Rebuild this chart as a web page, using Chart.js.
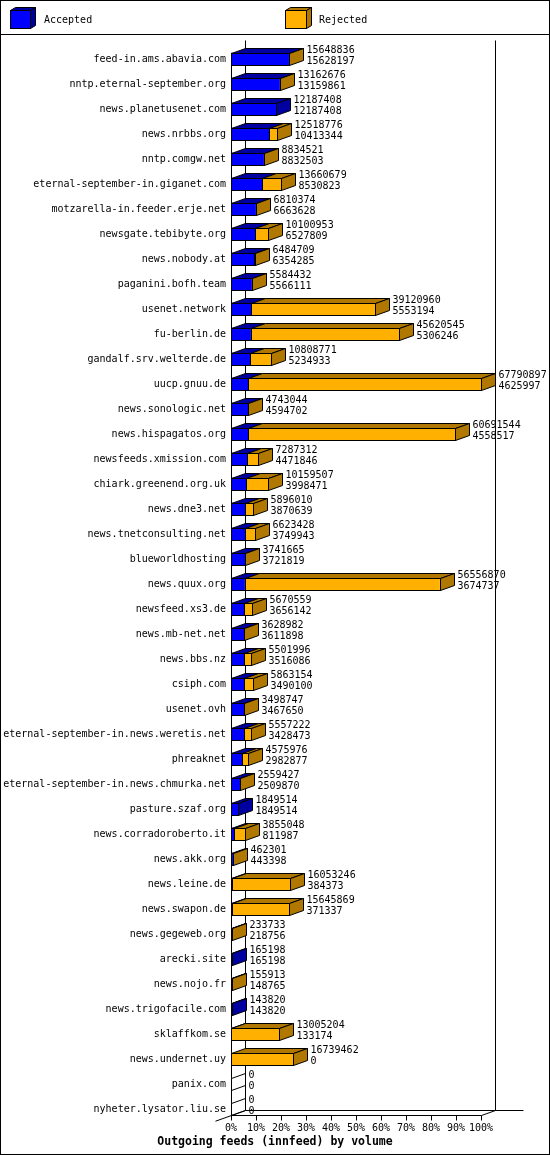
<!DOCTYPE html>
<html>
<head>
<meta charset="utf-8">
<script src="https://cdn.jsdelivr.net/npm/chart.js@4"></script>
<style>
  html, body { margin: 0; padding: 0; background: #fff; }
  #wrap { width: 550px; height: 1155px; }
</style>
</head>
<body>
<div id="wrap"><canvas id="chart" width="550" height="1155"></canvas></div>
<script>
const hosts = [
  "feed-in.ams.abavia.com", "nntp.eternal-september.org", "news.planetusenet.com",
  "news.nrbbs.org", "nntp.comgw.net", "eternal-september-in.giganet.com",
  "motzarella-in.feeder.erje.net", "newsgate.tebibyte.org", "news.nobody.at",
  "paganini.bofh.team", "usenet.network", "fu-berlin.de", "gandalf.srv.welterde.de",
  "uucp.gnuu.de", "news.sonologic.net", "news.hispagatos.org", "newsfeeds.xmission.com",
  "chiark.greenend.org.uk", "news.dne3.net", "news.tnetconsulting.net", "blueworldhosting",
  "news.quux.org", "newsfeed.xs3.de", "news.mb-net.net", "news.bbs.nz", "csiph.com",
  "usenet.ovh", "eternal-september-in.news.weretis.net", "phreaknet",
  "eternal-september-in.news.chmurka.net", "pasture.szaf.org", "news.corradoroberto.it",
  "news.akk.org", "news.leine.de", "news.swapon.de", "news.gegeweb.org", "arecki.site",
  "news.nojo.fr", "news.trigofacile.com", "sklaffkom.se", "news.undernet.uy",
  "panix.com", "nyheter.lysator.liu.se"
];

// upper number next to each bar (offered)
const offered = [
  15648836, 13162676, 12187408, 12518776, 8834521, 13660679, 6810374, 10100953, 6484709,
  5584432, 39120960, 45620545, 10808771, 67790897, 4743044, 60691544, 7287312, 10159507,
  5896010, 6623428, 3741665, 56556870, 5670559, 3628982, 5501996, 5863154, 3498747,
  5557222, 4575976, 2559427, 1849514, 3855048, 462301, 16053246, 15645869, 233733,
  165198, 155913, 143820, 13005204, 16739462, 0, 0
];

// lower number next to each bar (accepted)
const accepted = [
  15628197, 13159861, 12187408, 10413344, 8832503, 8530823, 6663628, 6527809, 6354285,
  5566111, 5553194, 5306246, 5234933, 4625997, 4594702, 4558517, 4471846, 3998471,
  3870639, 3749943, 3721819, 3674737, 3656142, 3611898, 3516086, 3490100, 3467650,
  3428473, 2982877, 2509870, 1849514, 811987, 443398, 384373, 371337, 218756,
  165198, 148765, 143820, 133174, 0, 0, 0
];

const rejected = offered.map((v, i) => v - accepted[i]);

const tickLabels = ["0%", "10%", "20%", "30%", "40%", "50%", "60%", "70%", "80%", "90%", "100%"];
const seriesNames = ["Accepted", "Rejected"];

const BLUE = "#0000ff", BLUE_D = "#0000a0";
const ORANGE = "#ffb000", ORANGE_D = "#b07800";
const DX = 14, DY = 5, HALF = 6;
const FONT = "'DejaVu Sans Mono', monospace";
const maxOffered = Math.max(...offered);

function $(id){ return document.getElementById(id); }

function poly(ctx, pts, fill){
  ctx.beginPath();
  pts.forEach(([px, py], k) => k ? ctx.lineTo(px, py) : ctx.moveTo(px, py));
  ctx.closePath();
  if(fill){ ctx.fillStyle = fill; ctx.fill(); }
  ctx.stroke();
}

function line(ctx, x0, y0, x1, y1){
  ctx.beginPath();
  ctx.moveTo(x0, y0);
  ctx.lineTo(x1, y1);
  ctx.stroke();
}

function cube(ctx, x0, y0, w, h, dx, dy, front, dark){
  ctx.fillStyle = front;
  ctx.fillRect(x0, y0, w, h);
  ctx.strokeRect(x0, y0, w, h);
  poly(ctx, [[x0, y0], [x0 + dx, y0 - dy], [x0 + w + dx, y0 - dy], [x0 + w, y0]], dark);
  poly(ctx, [[x0 + w, y0], [x0 + w + dx, y0 - dy], [x0 + w + dx, y0 + h - dy], [x0 + w, y0 + h]], dark);
}

// walls, floor and axis lines behind the bars
const frame3d = {
  id: "frame3d",
  beforeDatasetsDraw(chart){
    const { ctx, chartArea: a, scales: { x, y } } = chart;
    const L = Math.round(x.getPixelForValue(0)) + .5;
    const R = Math.round(x.getPixelForValue(maxOffered)) + .5;
    const floor = Math.round(a.bottom - 7) + .5;
    const wallTop = Math.round(a.top - 7) + .5;
    const firstTop = Math.round(y.getPixelForValue(0) - HALF) + .5;
    ctx.save();
    ctx.strokeStyle = "#000";
    ctx.lineWidth = 1;
    line(ctx, L + DX, wallTop, L + DX, floor - DY);
    line(ctx, R + DX, wallTop, R + DX, floor - DY);
    line(ctx, L + DX, floor - DY, R + DX + 28, floor - DY);
    line(ctx, L, firstTop, L, floor);
    line(ctx, L, floor, R, floor);
    line(ctx, R, floor, R + DX, floor - DY);
    line(ctx, L - 16, floor + 16 * DY / DX, L + DX, floor - DY);
    x.ticks.forEach(t => {
      const px = Math.round(x.getPixelForValue(t.value)) + .5;
      line(ctx, px, floor, px, floor + 5);
    });
    ctx.restore();
  },
  afterDatasetsDraw(chart){
    const { ctx, scales: { x } } = chart;
    const metas = [chart.getDatasetMeta(0), chart.getDatasetMeta(1)];
    const darks = [BLUE_D, ORANGE_D];
    const values = [accepted, rejected];
    const L = Math.round(x.getPixelForValue(0)) + .5;
    ctx.save();
    ctx.strokeStyle = "#000";
    ctx.lineWidth = 1;
    ctx.font = "10px " + FONT;
    ctx.textBaseline = "middle";
    ctx.textAlign = "left";
    hosts.forEach((h, i) => {
      const cy = metas[0].data[i].y;
      const t = Math.round(cy - HALF) + .5, b = Math.round(cy + HALF) + .5;
      let end = L, endDark = null;
      metas.forEach((m, d) => {
        if(values[d][i] === 0) return;
        const el = m.data[i];
        const x0 = Math.round(el.base) + .5, x1 = Math.round(el.x) + .5;
        ctx.strokeRect(x0, t, x1 - x0, b - t);
        poly(ctx, [[x0, t], [x0 + DX, t - DY], [x1 + DX, t - DY], [x1, t]], darks[d]);
        end = x1; endDark = darks[d];
      });
      poly(ctx, [[end, t], [end + DX, t - DY], [end + DX, b - DY], [end, b]], endDark);
      ctx.fillStyle = "#000";
      ctx.fillText(String(offered[i]), end + DX + 3, cy - 9);
      ctx.fillText(String(accepted[i]), end + DX + 3, cy + 2.5);
    });
    ctx.restore();
  },
  afterDraw(chart){
    const { ctx, width, height } = chart;
    ctx.save();
    ctx.strokeStyle = "#000";
    ctx.lineWidth = 1;
    ctx.strokeRect(.5, .5, width - 1, height - 1);
    line(ctx, 0, 34.5, width, 34.5);
    cube(ctx, 10.5, 10.5, 20, 18, 5, 3, BLUE, BLUE_D);
    cube(ctx, 285.5, 10.5, 21, 18, 5, 3, ORANGE, ORANGE_D);
    ctx.fillStyle = "#000";
    ctx.font = "10px " + FONT;
    ctx.textBaseline = "middle";
    ctx.textAlign = "left";
    ctx.fillText(seriesNames[0], 44, 20.5);
    ctx.fillText(seriesNames[1], 319, 20.5);
    ctx.font = "bold 11.5px " + FONT;
    ctx.textAlign = "center";
    ctx.fillText("Outgoing feeds (innfeed) by volume", width / 2, 1142);
    ctx.restore();
  }
};

const chart = new Chart($("chart").getContext("2d"), {
  type: "bar",
  data: {
    labels: hosts,
    datasets: [
      { label: seriesNames[0], data: accepted, backgroundColor: BLUE, borderWidth: 0, barThickness: 12 },
      { label: seriesNames[1], data: rejected, backgroundColor: ORANGE, borderWidth: 0, barThickness: 12 }
    ]
  },
  options: {
    indexAxis: "y",
    responsive: false,
    animation: false,
    devicePixelRatio: 1,
    layout: { padding: { top: 46.5, left: 0, right: 69, bottom: 0 } },
    plugins: { legend: { display: false }, title: { display: false }, tooltip: { enabled: false } },
    scales: {
      x: {
        stacked: true,
        min: 0,
        max: maxOffered,
        grid: { display: false, drawTicks: false },
        border: { display: false },
        afterBuildTicks: s => { s.ticks = tickLabels.map((_, k) => ({ value: k * maxOffered / 10 })); },
        afterFit: s => { s.height = 33.5; },
        ticks: {
          padding: 1,
          color: "#000",
          font: { family: FONT, size: 10 },
          maxRotation: 0,
          autoSkip: false,
          callback: (v, idx) => tickLabels[idx]
        }
      },
      y: {
        stacked: true,
        offset: true,
        grid: { display: false, drawTicks: false },
        border: { display: false },
        afterFit: s => { s.width = 231; },
        ticks: { padding: 5, color: "#000", autoSkip: false, font: { family: FONT, size: 10 } }
      }
    }
  },
  plugins: [frame3d]
});
</script>
</body>
</html>
